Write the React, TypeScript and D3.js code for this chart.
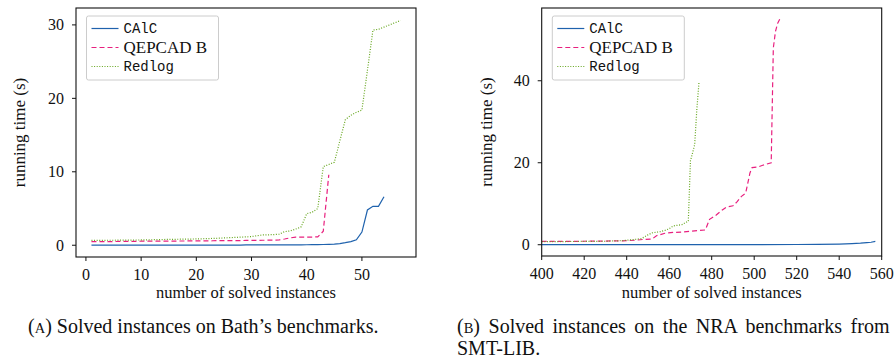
import * as d3 from "d3";

// series names and colours
const names = ["CAlC", "QEPCAD B", "Redlog"];
const mono = [true, false, true];
const colors = ["#1f62ad", "#e8207f", "#66a61e"];
const dashes = ["none", "5,3", "1,1.6"];

// (A) Bath's benchmarks: running time per solved instance (instance = index + 1)
const bathCalc = [
  0.03, 0.03, 0.03, 0.03, 0.03, 0.03, 0.03, 0.03, 0.03, 0.03,
  0.03, 0.03, 0.03, 0.03, 0.03, 0.03, 0.03, 0.03, 0.03, 0.03,
  0.03, 0.03, 0.03, 0.03, 0.03, 0.03, 0.03, 0.03, 0.04, 0.04,
  0.04, 0.04, 0.04, 0.04, 0.05, 0.05, 0.05, 0.06, 0.06, 0.07,
  0.08, 0.09, 0.1, 0.12, 0.15, 0.22, 0.35, 0.5, 0.75, 1.8,
  4.8, 5.3, 5.3, 6.6,
];
const bathQepcad = [
  0.5, 0.5, 0.5, 0.5, 0.5, 0.52, 0.52, 0.53, 0.53, 0.55,
  0.55, 0.55, 0.56, 0.56, 0.57, 0.57, 0.58, 0.58, 0.59, 0.6,
  0.6, 0.6, 0.61, 0.62, 0.62, 0.63, 0.64, 0.64, 0.65, 0.65,
  0.67, 0.68, 0.69, 0.7, 0.72, 0.85, 1.0, 1.1, 1.1, 1.1,
  1.1, 1.15, 1.9, 9.6,
];
const bathRedlog = [
  0.65, 0.66, 0.67, 0.68, 0.68, 0.69, 0.7, 0.7, 0.71, 0.72,
  0.74, 0.75, 0.77, 0.78, 0.8, 0.81, 0.82, 0.83, 0.84, 0.86,
  0.88, 0.9, 0.93, 0.96, 1.0, 1.03, 1.07, 1.1, 1.14, 1.18,
  1.3, 1.4, 1.42, 1.45, 1.5, 1.85, 1.95, 2.2, 2.5, 4.3,
  4.5, 5.0, 10.7, 11.0, 11.3, 14.2, 17.1, 17.7, 18.1, 18.4,
  23.8, 29.3, 29.4, 29.7, 30.0, 30.3, 30.6,
];

// (B) NRA benchmarks from SMT-LIB: [instances, running time]
const nraCalc: [number, number][] = [
  [400, 0.03], [450, 0.03], [500, 0.04], [520, 0.06], [530, 0.09],
  [540, 0.17], [546, 0.28], [550, 0.38], [553, 0.5], [555, 0.6], [557, 0.8],
];
const nraQepcad: [number, number][] = [
  [400, 0.8], [410, 0.8], [420, 0.85], [430, 0.9], [438, 0.95], [444, 1.1],
  [448, 1.3], [452, 1.4], [454, 2.2], [458, 2.8], [462, 3.0], [466, 3.1],
  [470, 3.3], [477, 3.6], [479, 6.2], [482, 7.2], [485, 8.5], [487, 9.2],
  [490, 9.5], [492, 10.5], [494, 11.8], [496, 12.6], [498, 17.5], [499, 18.8],
  [502, 19.0], [504, 19.4], [508, 20.0], [509, 48], [510, 52], [511, 54], [512, 55],
];
const nraRedlog: [number, number][] = [
  [400, 0.75], [420, 0.8], [430, 0.85], [438, 1.0], [444, 1.3], [447, 1.5],
  [450, 2.4], [452, 2.9], [456, 3.2], [458, 3.5], [460, 3.9], [462, 4.6],
  [466, 4.9], [468, 5.5], [469, 5.7], [470, 20.5], [471, 22.4], [472, 24.5],
  [473, 33], [474, 39.5],
];

const bathXTicks = [0, 10, 20, 30, 40, 50];
const bathYTicks = [0, 10, 20, 30];
const nraXTicks = [400, 420, 440, 460, 480, 500, 520, 540, 560];
const nraYTicks = [0, 20, 40];

const serif = "'Liberation Serif', 'Times New Roman', serif";
const monoFont = "'Liberation Mono', 'DejaVu Sans Mono', monospace";
const ink = "#111";

const toPairs = (arr: number[]): [number, number][] => arr.map((v, i) => [i + 1, v]);

type PanelProps = {
  id: string;
  frame: { x0: number; x1: number; y0: number; y1: number };
  xDomain: [number, number];
  yDomain: [number, number];
  xTicks: number[];
  yTicks: number[];
  series: [number, number][][];
  legendX: number;
  ylabelX: number;
};

function Panel({ id, frame, xDomain, yDomain, xTicks, yTicks, series, legendX, ylabelX }: PanelProps) {
  const x = d3.scaleLinear().domain(xDomain).range([frame.x0, frame.x1]);
  const y = d3.scaleLinear().domain(yDomain).range([frame.y1, frame.y0]);
  const line = d3
    .line<[number, number]>()
    .x((d) => x(d[0]))
    .y((d) => y(d[1]));
  const midX = (frame.x0 + frame.x1) / 2;
  const midY = (frame.y0 + frame.y1) / 2;
  const lw = 132;
  return (
    <g>
      <defs>
        <clipPath id={"clip-" + id}>
          <rect x={frame.x0} y={frame.y0} width={frame.x1 - frame.x0} height={frame.y1 - frame.y0} />
        </clipPath>
      </defs>
      <g clipPath={`url(#clip-${id})`}>
        {series.map((s, i) => (
          <path
            key={i}
            d={line(s) ?? ""}
            fill="none"
            stroke={colors[i]}
            strokeWidth={1.2}
            strokeDasharray={dashes[i]}
          />
        ))}
      </g>
      <rect
        x={frame.x0}
        y={frame.y0}
        width={frame.x1 - frame.x0}
        height={frame.y1 - frame.y0}
        fill="none"
        stroke={ink}
        strokeWidth={1.1}
      />
      {xTicks.map((t) => (
        <g key={"x" + t} transform={`translate(${x(t)},${frame.y1})`}>
          <line y2={4} stroke={ink} />
          <text y={23} textAnchor="middle" fontFamily={serif} fontSize={16} fill={ink}>
            {t}
          </text>
        </g>
      ))}
      {yTicks.map((t) => (
        <g key={"y" + t} transform={`translate(${frame.x0},${y(t)})`}>
          <line x2={-4} stroke={ink} />
          <text x={-12} dy="0.34em" textAnchor="end" fontFamily={serif} fontSize={16} fill={ink}>
            {t}
          </text>
        </g>
      ))}
      <text x={midX} y={298} textAnchor="middle" fontFamily={serif} fontSize={16.5} fill={ink}>
        number of solved instances
      </text>
      <text
        transform={`translate(${ylabelX},${midY}) rotate(-90)`}
        textAnchor="middle"
        dy="0.3em"
        fontFamily={serif}
        fontSize={17}
        fill={ink}
      >
        running time (s)
      </text>
      <g transform={`translate(${legendX},16)`}>
        <rect width={lw} height={64} rx={2} fill="white" fillOpacity={0.8} stroke="#ccc" />
        {names.map((n, i) => (
          <g key={n} transform={`translate(0,${12.5 + i * 19})`}>
            <line x1={5} x2={32} stroke={colors[i]} strokeWidth={1.2} strokeDasharray={dashes[i]} />
            <text
              x={37}
              dy="0.35em"
              fontFamily={mono[i] ? monoFont : serif}
              fontSize={mono[i] ? 14 : 17}
              fill={ink}
            >
              {n}
            </text>
          </g>
        ))}
      </g>
    </g>
  );
}

export default function App() {
  return (
    <svg
      width={894}
      height={363}
      style={{ position: "absolute", left: 0, top: 0, background: "white" }}
    >
      <Panel
        id="a"
        frame={{ x0: 76, x1: 416, y0: 8, y1: 257 }}
        xDomain={[-1.8, 59.8]}
        yDomain={[-1.6, 32.3]}
        xTicks={bathXTicks}
        yTicks={bathYTicks}
        series={[toPairs(bathCalc), toPairs(bathQepcad), toPairs(bathRedlog)]}
        legendX={86.5}
        ylabelX={20}
      />
      <Panel
        id="b"
        frame={{ x0: 541.7, x1: 881.7, y0: 8, y1: 256 }}
        xDomain={[400, 560]}
        yDomain={[-2.75, 57.75]}
        xTicks={nraXTicks}
        yTicks={nraYTicks}
        series={[nraCalc, nraQepcad, nraRedlog]}
        legendX={552.3}
        ylabelX={487}
      />
      <text x={28} y={333} fontFamily={serif} fontSize={20} fill={ink}>
        (<tspan fontSize={14.5}>A</tspan>) Solved instances on Bath’s benchmarks.
      </text>
      <text x={457} y={333} fontFamily={serif} fontSize={20} fill={ink} wordSpacing={3.5}>
        (<tspan fontSize={14.5}>B</tspan>) Solved instances on the NRA benchmarks from
      </text>
      <text x={457} y={355} fontFamily={serif} fontSize={20} fill={ink}>
        SMT-LIB.
      </text>
    </svg>
  );
}
